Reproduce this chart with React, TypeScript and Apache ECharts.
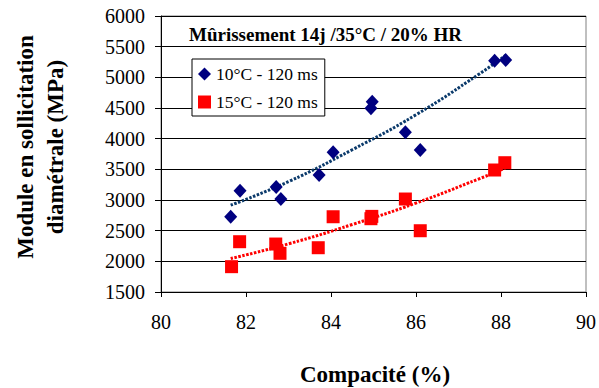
import React, { useEffect, useRef } from "react";
import * as echarts from "echarts";

// Series 1: 10°C - 120 ms  [compacité %, module MPa]
const compacite10 = [81.64, 81.86, 82.71, 82.82, 83.72, 84.05, 84.94, 84.97, 85.75, 86.1, 87.85, 88.11];
const module10 = [2727, 3151, 3210, 3016, 3407, 3777, 4494, 4602, 4103, 3815, 5270, 5282];

// Series 2: 15°C - 120 ms
const compacite15 = [81.66, 81.85, 82.7, 82.8, 83.7, 84.05, 84.94, 84.96, 85.75, 86.1, 87.85, 88.09];
const module15 = [1913, 2320, 2282, 2131, 2222, 2727, 2695, 2733, 3016, 2499, 3489, 3608];

// Exponential trend lines at a few compacité values
const trendX10 = [81.64, 83, 84.5, 86, 87.5, 88.11];
const trendY10 = [2915, 3300, 3820, 4390, 5060, 5360];
const trendX15 = [81.64, 83, 84.5, 86, 87.5, 88.1];
const trendY15 = [2045, 2285, 2600, 2950, 3350, 3520];

const xTicks = { min: 80, max: 90, interval: 2 };
const yTicks = { min: 1500, max: 6000, interval: 500 };

const seriesNames = ["10°C - 120 ms", "15°C - 120 ms"];
const titleText = "Mûrissement 14j /35°C / 20% HR";
const xTitle = "Compacité (%)";
const yTitleLines = ["Module en sollicitation", "diamétrale (MPa)"];

const zip = (xs: number[], ys: number[]) => xs.map((x, i) => [x, ys[i]]);

const FAMILY = "Liberation Serif";

export default function App() {
  const ref = useRef<HTMLDivElement>(null);
  useEffect(() => {
    document.body.style.margin = "0";
    if (!ref.current) return;
    const chart = echarts.init(ref.current, null, { renderer: "svg" });
    const trendDash = [2.5, 1.5];
    const label = { fontFamily: FAMILY, fontSize: 20, color: "#000000" };
    const bold = (size: number) => `bold ${size}px "${FAMILY}"`;
    chart.setOption({
      animation: false,
      backgroundColor: "#ffffff",
      textStyle: { fontFamily: FAMILY },
      grid: {
        left: 161,
        top: 16,
        width: 428,
        height: 276,
        show: true,
        borderColor: "#808080",
        borderWidth: 1,
        backgroundColor: "transparent",
      },
      legend: {
        data: seriesNames,
        orient: "vertical",
        left: 192,
        top: 59,
        backgroundColor: "#ffffff",
        borderColor: "#000000",
        borderWidth: 1,
        borderRadius: 0,
        padding: [6, 7, 5, 6],
        itemGap: 10,
        itemWidth: 13,
        itemHeight: 13,
        textStyle: { fontFamily: FAMILY, fontSize: 17.5, color: "#000000" },
      },
      xAxis: {
        type: "value",
        min: xTicks.min,
        max: xTicks.max,
        interval: xTicks.interval,
        axisLine: { show: true, onZero: false, lineStyle: { color: "#000000", width: 1 } },
        axisTick: { show: true, length: 5, lineStyle: { color: "#000000" } },
        splitLine: { show: false },
        axisLabel: { ...label, margin: 20, formatter: (v: number) => String(v) },
      },
      yAxis: {
        type: "value",
        min: yTicks.min,
        max: yTicks.max,
        interval: yTicks.interval,
        axisLine: { show: true, onZero: false, lineStyle: { color: "#000000", width: 1 } },
        axisTick: { show: true, length: 6, lineStyle: { color: "#000000" } },
        splitLine: { show: true, lineStyle: { color: "#000000", width: 1 } },
        axisLabel: { ...label, margin: 16, formatter: (v: number) => String(v) },
      },
      graphic: [
        {
          type: "text",
          x: 189,
          y: 34,
          style: {
            text: titleText,
            font: bold(19),
            fill: "#000000",
            align: "left",
            verticalAlign: "middle",
          },
          z: 100,
        },
        {
          type: "text",
          x: 375,
          y: 374,
          style: {
            text: xTitle,
            font: bold(23),
            fill: "#000000",
            align: "center",
            verticalAlign: "middle",
          },
        },
        {
          type: "text",
          x: 25,
          y: 147,
          rotation: Math.PI / 2,
          style: {
            text: yTitleLines[0],
            font: bold(23),
            fill: "#000000",
            align: "center",
            verticalAlign: "middle",
          },
        },
        {
          type: "text",
          x: 55,
          y: 147,
          rotation: Math.PI / 2,
          style: {
            text: yTitleLines[1],
            font: bold(23),
            fill: "#000000",
            align: "center",
            verticalAlign: "middle",
          },
        },
      ],
      series: [
        {
          name: "trend10",
          type: "line",
          data: zip(trendX10, trendY10),
          smooth: true,
          showSymbol: false,
          symbol: "none",
          lineStyle: { color: "#0b3a6b", width: 3, type: trendDash, cap: "butt" },
          z: 2,
          silent: true,
        },
        {
          name: "trend15",
          type: "line",
          data: zip(trendX15, trendY15),
          smooth: true,
          showSymbol: false,
          symbol: "none",
          lineStyle: { color: "#ff0000", width: 3, type: trendDash, cap: "butt" },
          z: 2,
          silent: true,
        },
        {
          name: seriesNames[0],
          type: "scatter",
          symbol: "diamond",
          symbolSize: [13, 14],
          itemStyle: { color: "#000080", opacity: 1 },
          data: zip(compacite10, module10),
          z: 3,
        },
        {
          name: seriesNames[1],
          type: "scatter",
          symbol: "rect",
          symbolSize: 13,
          itemStyle: { color: "#ff0000", opacity: 1 },
          data: zip(compacite15, module15),
          z: 3,
        },
      ],
    });
    return () => chart.dispose();
  }, []);
  return <div ref={ref} style={{ width: 599, height: 388 }} />;
}
